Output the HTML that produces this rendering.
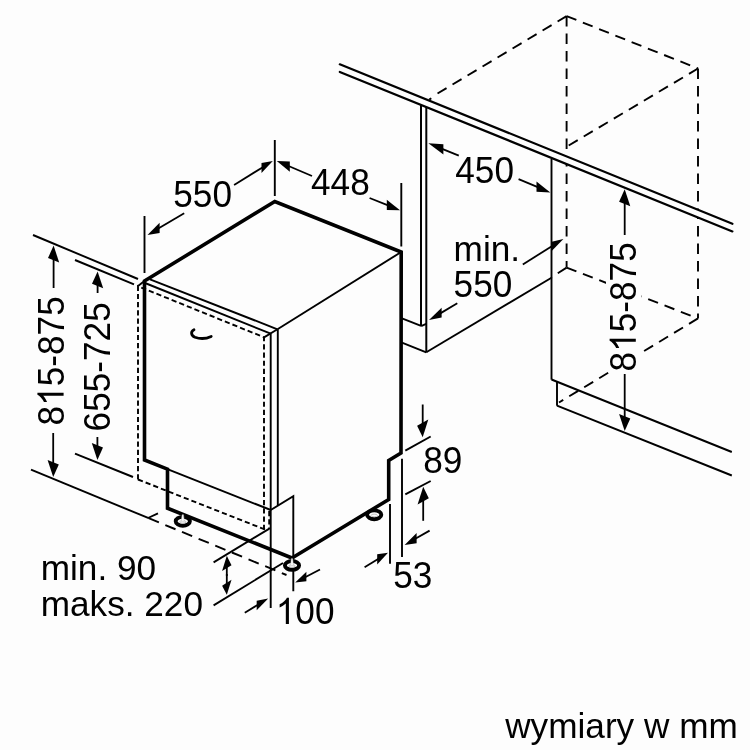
<!DOCTYPE html>
<html><head><meta charset="utf-8"><title>wymiary</title>
<style>
html,body{margin:0;padding:0;background:#fdfdfd;overflow:hidden}
svg{display:block;will-change:transform;opacity:0.999}
text{font-family:"Liberation Sans",sans-serif;fill:#000}
</style></head><body>
<svg width="750" height="750" viewBox="0 0 750 750">
<rect width="750" height="750" fill="#fdfdfd"/>
<line x1="150" y1="279.3" x2="277.5" y2="329.3" stroke="#000" stroke-width="1.9" stroke-linecap="butt"/>
<line x1="145" y1="283" x2="270.7" y2="333.7" stroke="#000" stroke-width="1.9" stroke-linecap="butt"/>
<line x1="401.2" y1="252" x2="277.5" y2="329.3" stroke="#000" stroke-width="1.9" stroke-linecap="butt"/>
<line x1="270.7" y1="333.7" x2="270.7" y2="608" stroke="#000" stroke-width="1.9" stroke-linecap="butt"/>
<line x1="277.5" y1="329.3" x2="264" y2="337.4" stroke="#000" stroke-width="1.9" stroke-linecap="butt"/>
<line x1="277.8" y1="329.3" x2="277.8" y2="505.6" stroke="#000" stroke-width="1.9" stroke-linecap="butt"/>
<line x1="168" y1="469.3" x2="270.7" y2="510" stroke="#000" stroke-width="1.9" stroke-linecap="butt"/>
<polyline points="270.7,510 293.3,496.2 293.3,591.2" fill="none" stroke="#000" stroke-width="1.9" stroke-linejoin="miter" stroke-linecap="butt"/>
<polyline points="138,479.5 138,286.2 264,337.3 264,529.5" fill="none" stroke="#000" stroke-width="1.9" stroke-linejoin="miter" stroke-linecap="butt" stroke-dasharray="5.2 3"/>
<line x1="138" y1="286" x2="144.5" y2="281" stroke="#000" stroke-width="1.9" stroke-linecap="butt"/>
<line x1="138" y1="479.5" x2="265" y2="529.5" stroke="#000" stroke-width="1.9" stroke-linecap="butt" stroke-dasharray="5.2 3"/>
<line x1="269.2" y1="511" x2="269.2" y2="529" stroke="#000" stroke-width="1.9" stroke-linecap="butt" stroke-dasharray="5.2 3"/>
<ellipse cx="374.2" cy="514.8" rx="7.1" ry="4.4" fill="#fdfdfd" stroke="#000" stroke-width="3.9"/>
<ellipse cx="374.2" cy="515.4" rx="3.2" ry="1.3" fill="#fdfdfd" stroke="#aaa" stroke-width="0.7"/>
<polyline points="292,558 167.5,508.2 167.5,469.2 144.5,460 144.5,281 274.8,201.5 401.2,252 401,453 388.7,460.5 388.7,499.5 292,558" fill="none" stroke="#000" stroke-width="3.6" stroke-linejoin="miter" stroke-linecap="butt"/>
<path d="M194,329.8 C190.5,331.5 190.8,335.5 195,337.2 C200,339 206.5,338.6 211.2,336.4" fill="none" stroke="#000" stroke-width="2.8" stroke-linecap="round"/>
<ellipse cx="182.8" cy="521.3" rx="7.1" ry="4.4" fill="#fdfdfd" stroke="#000" stroke-width="3.9"/>
<ellipse cx="182.8" cy="521.9" rx="3.2" ry="1.3" fill="#fdfdfd" stroke="#aaa" stroke-width="0.7"/>
<polygon points="181.3,521.3 184.3,521.3 183.5,514.6999999999999 182.10000000000002,514.6999999999999" fill="#fdfdfd" stroke="#bbb" stroke-width="0.5"/>
<ellipse cx="292" cy="565.4" rx="7.1" ry="4.4" fill="#fdfdfd" stroke="#000" stroke-width="3.9"/>
<ellipse cx="292" cy="566.0" rx="3.2" ry="1.3" fill="#fdfdfd" stroke="#aaa" stroke-width="0.7"/>
<polygon points="290.5,565.4 293.5,565.4 292.7,558.8 291.3,558.8" fill="#fdfdfd" stroke="#bbb" stroke-width="0.5"/>
<line x1="33" y1="235" x2="138" y2="279" stroke="#000" stroke-width="1.9" stroke-linecap="butt"/>
<line x1="75" y1="260" x2="134" y2="284.4" stroke="#000" stroke-width="1.9" stroke-linecap="butt"/>
<line x1="75" y1="453.6" x2="133" y2="477" stroke="#000" stroke-width="1.9" stroke-linecap="butt"/>
<line x1="31" y1="469.7" x2="148.7" y2="518.2" stroke="#000" stroke-width="1.9" stroke-linecap="butt"/>
<line x1="148.7" y1="518.2" x2="286.5" y2="575" stroke="#000" stroke-width="1.9" stroke-linecap="butt" stroke-dasharray="11 7"/>
<line x1="148" y1="518" x2="164" y2="510.6" stroke="#000" stroke-width="1.9" stroke-linecap="butt" stroke-dasharray="11 7"/>
<line x1="53.6" y1="288" x2="53.6" y2="258.3" stroke="#000" stroke-width="1.8" stroke-linecap="butt"/>
<polygon points="53.60,245.60 48.00,258.06 59.20,262.54" fill="#000"/>
<line x1="53.2" y1="433" x2="53.2" y2="464.3" stroke="#000" stroke-width="1.8" stroke-linecap="butt"/>
<polygon points="53.20,477.00 47.60,460.06 58.80,464.54" fill="#000"/>
<line x1="97.6" y1="293" x2="97.6" y2="284.1" stroke="#000" stroke-width="1.8" stroke-linecap="butt"/>
<polygon points="97.60,271.40 92.00,283.86 103.20,288.34" fill="#000"/>
<line x1="97.4" y1="437" x2="97.4" y2="447.3" stroke="#000" stroke-width="1.8" stroke-linecap="butt"/>
<polygon points="97.40,460.00 91.80,443.06 103.00,447.54" fill="#000"/>
<g transform="translate(63.6 425.4) rotate(-90) scale(1 1.035)"><text x="0" y="0" font-size="35.2" text-anchor="start">815-875</text><rect x="21.51" y="-25.87" width="16.54" height="26.75" fill="#fdfdfd"/><path transform="translate(19.57 0) scale(0.01719 -0.01719)" d="M763,0H583V1147Q518,1085 412.5,1023Q307,961 223,930V1104Q374,1175 487,1276Q600,1377 647,1472H763Z" fill="#000"/></g>
<g transform="translate(109.8 431.4) rotate(-90) scale(1 1.035)"><text x="0" y="0" font-size="35.2" text-anchor="start">655-725</text></g>
<line x1="144.5" y1="216" x2="144.5" y2="273" stroke="#000" stroke-width="1.9" stroke-linecap="butt"/>
<line x1="274.8" y1="140" x2="274.8" y2="196" stroke="#000" stroke-width="1.9" stroke-linecap="butt"/>
<line x1="401.3" y1="183" x2="401.3" y2="246.5" stroke="#000" stroke-width="1.9" stroke-linecap="butt"/>
<line x1="234.1" y1="185" x2="263.2" y2="166.95" stroke="#000" stroke-width="1.8" stroke-linecap="butt"/>
<polygon points="272.80,161.00 261.50,163.01 261.50,173.01" fill="#000"/>
<line x1="184.2" y1="213.2" x2="157.88" y2="228.83" stroke="#000" stroke-width="1.8" stroke-linecap="butt"/>
<polygon points="147.50,235.00 159.60,222.71 159.60,232.91" fill="#000"/>
<line x1="312" y1="176" x2="287.96" y2="165.76" stroke="#000" stroke-width="1.8" stroke-linecap="butt"/>
<polygon points="276.80,161.00 289.80,161.44 289.80,171.64" fill="#000"/>
<line x1="369.6" y1="198" x2="388.66" y2="205.65" stroke="#000" stroke-width="1.8" stroke-linecap="butt"/>
<polygon points="400.00,210.20 386.80,199.70 386.80,210.10" fill="#000"/>
<g transform="translate(173.3 207.0) scale(1 1.035)"><text x="0" y="0" font-size="35.2" text-anchor="start">550</text></g>
<g transform="translate(311 195.0) scale(1 1.035)"><text x="0" y="0" font-size="35.2" text-anchor="start">448</text></g>
<line x1="421" y1="104.8" x2="421" y2="325.7" stroke="#000" stroke-width="2" stroke-linecap="butt"/>
<line x1="426.3" y1="107" x2="426.3" y2="352.3" stroke="#000" stroke-width="2" stroke-linecap="butt"/>
<line x1="401.3" y1="318.1" x2="421.1" y2="325.9" stroke="#000" stroke-width="1.9" stroke-linecap="butt"/>
<line x1="421.1" y1="326.1" x2="426.2" y2="323.8" stroke="#000" stroke-width="1.9" stroke-linecap="butt"/>
<line x1="401.3" y1="342.3" x2="426.3" y2="352.3" stroke="#000" stroke-width="1.9" stroke-linecap="butt"/>
<line x1="426.3" y1="352.3" x2="551.5" y2="277.7" stroke="#000" stroke-width="1.9" stroke-linecap="butt"/>
<line x1="551.5" y1="159" x2="551.5" y2="379.7" stroke="#000" stroke-width="1.9" stroke-linecap="butt"/>
<line x1="551.5" y1="379.5" x2="731.8" y2="452" stroke="#000" stroke-width="1.9" stroke-linecap="butt"/>
<line x1="557" y1="381.6" x2="557" y2="405.7" stroke="#000" stroke-width="1.9" stroke-linecap="butt"/>
<line x1="557" y1="405.7" x2="731.8" y2="475.5" stroke="#000" stroke-width="1.9" stroke-linecap="butt"/>
<line x1="566.6" y1="16.1" x2="432" y2="96.8" stroke="#000" stroke-width="1.9" stroke-linecap="butt" stroke-dasharray="10.5 7"/>
<line x1="431.3" y1="98.2" x2="429.2" y2="99.6" stroke="#000" stroke-width="1.9" stroke-linecap="butt"/>
<line x1="566.6" y1="16.1" x2="698" y2="68.5" stroke="#000" stroke-width="1.9" stroke-linecap="butt" stroke-dasharray="10.5 7"/>
<line x1="566.6" y1="16.1" x2="566.6" y2="267.6" stroke="#000" stroke-width="1.9" stroke-linecap="butt" stroke-dasharray="10.5 7"/>
<line x1="698" y1="68.5" x2="566.7" y2="146.7" stroke="#000" stroke-width="1.9" stroke-linecap="butt" stroke-dasharray="10.5 7"/>
<line x1="698" y1="68.5" x2="698" y2="318.4" stroke="#000" stroke-width="1.9" stroke-linecap="butt" stroke-dasharray="10.5 7"/>
<line x1="566.6" y1="267.6" x2="698" y2="318.4" stroke="#000" stroke-width="1.9" stroke-linecap="butt" stroke-dasharray="10.5 7"/>
<line x1="566.6" y1="267.6" x2="551.5" y2="277.4" stroke="#000" stroke-width="1.9" stroke-linecap="butt" stroke-dasharray="10.5 7"/>
<line x1="698" y1="318.4" x2="559" y2="402.5" stroke="#000" stroke-width="1.9" stroke-linecap="butt" stroke-dasharray="10.5 7"/>
<polygon points="339.8,64.3 732.4,223.8 732.4,231.4 339.8,71.9" fill="#fdfdfd"/>
<line x1="339.8" y1="64.3" x2="732.4" y2="223.8" stroke="#000" stroke-width="2.2" stroke-linecap="round"/>
<line x1="339.8" y1="71.9" x2="732.4" y2="231.4" stroke="#000" stroke-width="2.2" stroke-linecap="round"/>
<line x1="458.8" y1="155.7" x2="441.55" y2="148.66" stroke="#000" stroke-width="1.8" stroke-linecap="butt"/>
<polygon points="428.40,143.30 443.40,144.22 443.40,154.62" fill="#000"/>
<line x1="518.6" y1="179.2" x2="538.35" y2="187.42" stroke="#000" stroke-width="1.8" stroke-linecap="butt"/>
<polygon points="550.30,192.40 536.50,181.45 536.50,191.85" fill="#000"/>
<g transform="translate(455.3 182.8) scale(1 1.035)"><text x="0" y="0" font-size="35.2" text-anchor="start">450</text></g>
<g transform="translate(453.6 261.3) scale(1 1.0)"><text x="0" y="0" font-size="35.2" text-anchor="start">min.</text></g>
<g transform="translate(453.6 297.1) scale(1 1.035)"><text x="0" y="0" font-size="35.2" text-anchor="start">550</text></g>
<line x1="522.8" y1="264.5" x2="553.39" y2="245.21" stroke="#000" stroke-width="1.8" stroke-linecap="butt"/>
<polygon points="563.40,238.90 551.70,241.68 551.70,250.88" fill="#000"/>
<line x1="457.3" y1="303.3" x2="439.88" y2="313.64" stroke="#000" stroke-width="1.8" stroke-linecap="butt"/>
<polygon points="429.00,320.10 441.60,307.72 441.60,317.52" fill="#000"/>
<rect x="606" y="241" width="35.5" height="131" fill="#fdfdfd"/>
<g transform="translate(635.8 371.4) rotate(-90) scale(1 1.035)"><text x="0" y="0" font-size="35.2" text-anchor="start">815-875</text><rect x="21.51" y="-25.87" width="16.54" height="26.75" fill="#fdfdfd"/><path transform="translate(19.57 0) scale(0.01719 -0.01719)" d="M763,0H583V1147Q518,1085 412.5,1023Q307,961 223,930V1104Q374,1175 487,1276Q600,1377 647,1472H763Z" fill="#000"/></g>
<line x1="624.7" y1="235" x2="624.7" y2="202.0" stroke="#000" stroke-width="1.8" stroke-linecap="butt"/>
<polygon points="624.70,189.30 619.10,201.76 630.30,206.24" fill="#000"/>
<line x1="624.7" y1="374" x2="624.7" y2="418.2" stroke="#000" stroke-width="1.8" stroke-linecap="butt"/>
<polygon points="624.70,430.90 619.10,413.96 630.30,418.44" fill="#000"/>
<line x1="405.3" y1="450.7" x2="430.7" y2="436.5" stroke="#000" stroke-width="1.9" stroke-linecap="butt"/>
<line x1="405.3" y1="494.4" x2="430.7" y2="481" stroke="#000" stroke-width="1.9" stroke-linecap="butt"/>
<line x1="422.7" y1="404.5" x2="422.7" y2="424.6" stroke="#000" stroke-width="1.8" stroke-linecap="butt"/>
<polygon points="422.70,437.30 417.10,425.68 428.30,419.52" fill="#000"/>
<line x1="423.2" y1="520.8" x2="423.2" y2="499.4" stroke="#000" stroke-width="1.8" stroke-linecap="butt"/>
<polygon points="423.20,486.70 417.60,504.48 428.80,498.32" fill="#000"/>
<g transform="translate(423.3 472.7) scale(1 1.035)"><text x="0" y="0" font-size="35.2" text-anchor="start">89</text></g>
<line x1="390" y1="504" x2="390" y2="563.8" stroke="#000" stroke-width="1.9" stroke-linecap="butt"/>
<line x1="402" y1="458.7" x2="402" y2="557" stroke="#000" stroke-width="1.9" stroke-linecap="butt"/>
<line x1="429.6" y1="530.6" x2="414.87" y2="539.09" stroke="#000" stroke-width="1.8" stroke-linecap="butt"/>
<polygon points="404.60,545.00 416.60,532.89 416.60,543.29" fill="#000"/>
<line x1="364.6" y1="567.2" x2="378.9" y2="558.4" stroke="#000" stroke-width="1.8" stroke-linecap="butt"/>
<polygon points="388.00,552.80 377.20,554.35 377.20,564.55" fill="#000"/>
<g transform="translate(393.3 588.4) scale(1 1.035)"><text x="0" y="0" font-size="35.2" text-anchor="start">53</text></g>
<line x1="244.8" y1="612.8" x2="258.4" y2="604.43" stroke="#000" stroke-width="1.8" stroke-linecap="butt"/>
<polygon points="268.20,598.40 256.70,600.68 256.70,610.28" fill="#000"/>
<line x1="320" y1="569.5" x2="304.63" y2="577.5" stroke="#000" stroke-width="1.8" stroke-linecap="butt"/>
<polygon points="295.20,582.40 306.40,571.77 306.40,581.37" fill="#000"/>
<g transform="translate(275.8 624.0) scale(1 1.035)"><text x="0" y="0" font-size="35.2" text-anchor="start">100</text><rect x="1.94" y="-25.87" width="16.54" height="26.75" fill="#fdfdfd"/><path transform="translate(0.00 0) scale(0.01719 -0.01719)" d="M763,0H583V1147Q518,1085 412.5,1023Q307,961 223,930V1104Q374,1175 487,1276Q600,1377 647,1472H763Z" fill="#000"/></g>
<line x1="213.6" y1="562.4" x2="269.4" y2="528.6" stroke="#000" stroke-width="1.9" stroke-linecap="butt"/>
<line x1="213.6" y1="605.4" x2="283" y2="563" stroke="#000" stroke-width="1.9" stroke-linecap="butt"/>
<line x1="226.8" y1="576" x2="226.8" y2="566.1" stroke="#000" stroke-width="1.8" stroke-linecap="butt"/>
<polygon points="226.80,555.80 222.10,571.06 231.50,565.14" fill="#000"/>
<line x1="226.8" y1="574" x2="226.8" y2="584.8" stroke="#000" stroke-width="1.8" stroke-linecap="butt"/>
<polygon points="226.80,594.80 222.10,585.76 231.50,579.84" fill="#000"/>
<g transform="translate(40.7 580.3) scale(1 1.005)"><text x="0" y="0" font-size="35.2" text-anchor="start">min. 90</text></g>
<g transform="translate(40.7 615.8) scale(1 1.005)"><text x="0" y="0" font-size="35.2" text-anchor="start">maks. 220</text></g>
<g transform="translate(505.2 737.6) scale(1 1.0)"><text x="0" y="0" font-size="35.2" text-anchor="start">wymiary w mm</text></g>
</svg>
</body></html>
